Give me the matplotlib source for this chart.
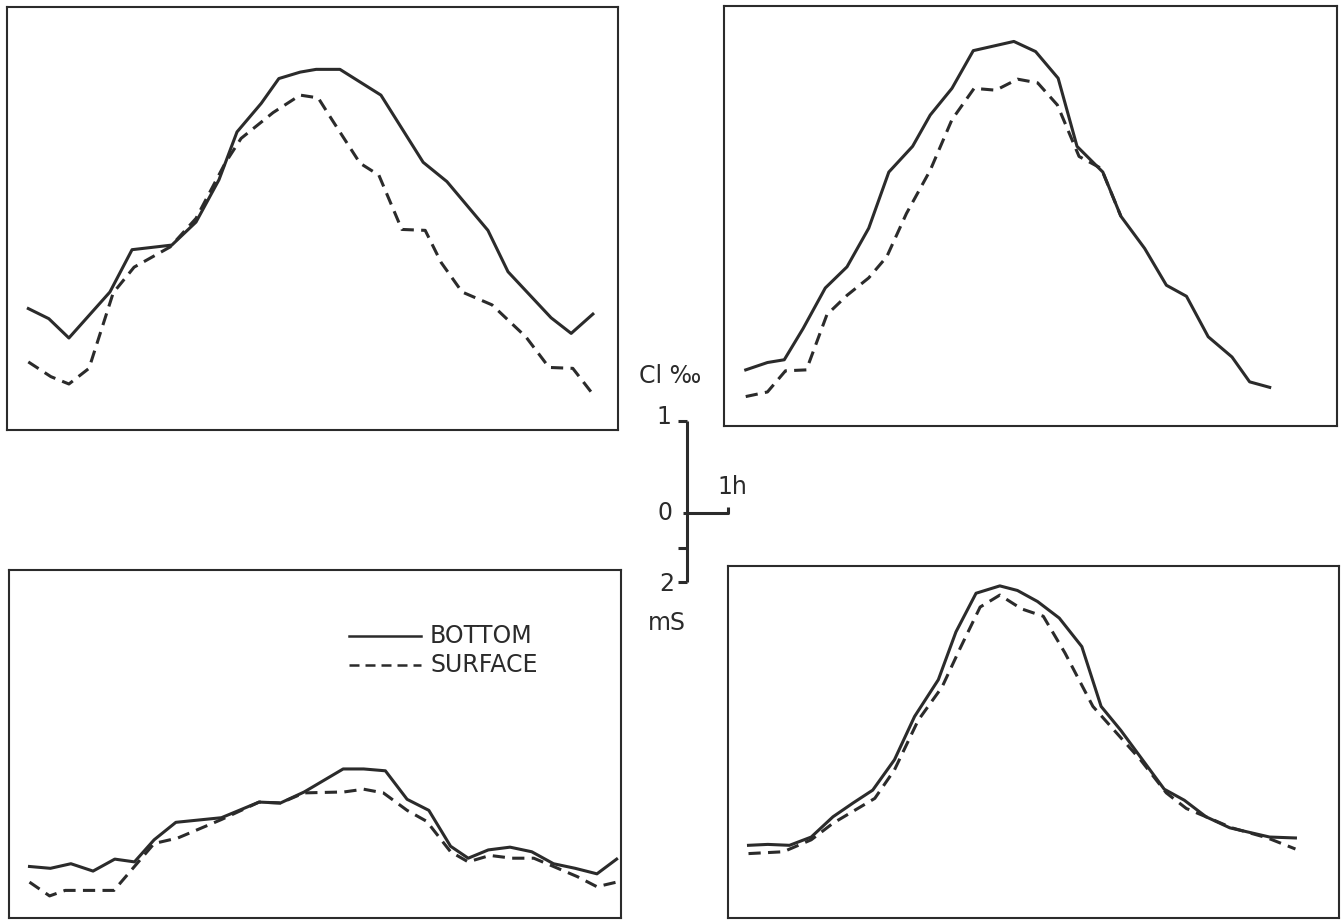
import numpy as np
import matplotlib.pyplot as plt
from matplotlib.lines import Line2D

# time in hours from the left edge of each panel, chlorinity in Cl ‰ above the panel floor
t_tl_bottom = [0.52, 1.02, 1.51, 2.51, 3.05, 4.02, 4.61, 5.17, 5.61, 6.20, 6.63, 7.15,
               7.54, 8.12, 9.12, 10.15, 10.73, 11.73, 12.22, 13.27, 13.76, 14.29]
cl_tl_bottom = [1.32, 1.21, 1.00, 1.50, 1.96, 2.01, 2.26, 2.72, 3.24, 3.55, 3.82, 3.89,
                3.92, 3.92, 3.64, 2.91, 2.70, 2.17, 1.72, 1.22, 1.05, 1.26]
t_tl_surface = [0.52, 1.07, 1.51, 2.00, 2.59, 3.10, 3.98, 4.61, 5.32, 5.71, 6.49, 7.15,
                7.59, 7.93, 8.61, 9.07, 9.63, 10.20, 10.59, 11.10, 11.83, 12.66, 13.22,
                13.80, 14.34]
cl_tl_surface = [0.74, 0.58, 0.50, 0.67, 1.49, 1.77, 1.99, 2.30, 2.90, 3.17, 3.45, 3.64,
                 3.61, 3.37, 2.90, 2.77, 2.18, 2.17, 1.82, 1.50, 1.36, 1.01, 0.68,
                 0.67, 0.36]

t_tr_bottom = [0.53, 1.06, 1.47, 1.93, 2.47, 3.00, 3.53, 4.02, 4.60, 5.03, 5.56, 6.08,
               7.07, 7.60, 8.15, 8.61, 9.24, 9.68, 10.26, 10.79, 11.28, 11.81, 12.39,
               12.82, 13.31]
cl_tr_bottom = [0.61, 0.69, 0.72, 1.06, 1.50, 1.73, 2.15, 2.76, 3.04, 3.38, 3.67, 4.08,
                4.18, 4.07, 3.78, 3.04, 2.76, 2.28, 1.93, 1.53, 1.41, 0.97, 0.75,
                0.48, 0.42]
t_tr_surface = [0.53, 1.06, 1.50, 2.01, 2.51, 3.00, 3.53, 3.97, 4.45, 5.03, 5.56, 6.10,
                6.63, 7.16, 7.65, 8.13, 8.66, 9.20, 9.68]
cl_tr_surface = [0.32, 0.37, 0.60, 0.61, 1.21, 1.42, 1.61, 1.84, 2.31, 2.78, 3.33, 3.67,
                 3.65, 3.77, 3.73, 3.49, 2.93, 2.80, 2.28]

t_bl_bottom = [0.50, 1.01, 1.51, 2.05, 2.58, 3.06, 3.54, 4.07, 5.18, 6.10, 6.62, 7.20,
               8.15, 8.65, 9.18, 9.71, 10.24, 10.77, 11.20, 11.69, 12.22, 12.75, 13.28,
               13.81, 14.34, 14.82]
cl_bl_bottom = [0.56, 0.54, 0.59, 0.51, 0.64, 0.61, 0.85, 1.04, 1.09, 1.26, 1.25, 1.37,
                1.62, 1.62, 1.60, 1.29, 1.17, 0.78, 0.65, 0.74, 0.77, 0.72, 0.59,
                0.54, 0.48, 0.64]
t_bl_surface = [0.50, 0.99, 1.37, 2.05, 2.56, 3.06, 3.54, 4.12, 5.18, 6.10, 6.62, 7.20,
                8.17, 8.65, 9.13, 9.71, 10.19, 10.77, 11.20, 11.73, 12.27, 12.80, 13.28,
                13.86, 14.34, 14.82]
cl_bl_surface = [0.39, 0.24, 0.30, 0.30, 0.30, 0.56, 0.81, 0.87, 1.07, 1.26, 1.25, 1.36,
                 1.37, 1.40, 1.36, 1.17, 1.05, 0.72, 0.61, 0.68, 0.65, 0.65, 0.56,
                 0.45, 0.34, 0.39]

t_br_bottom = [0.50, 0.97, 1.50, 2.03, 2.56, 3.05, 3.53, 4.06, 4.55, 5.13, 5.56, 6.05,
               6.63, 7.06, 7.55, 8.08, 8.63, 9.10, 9.58, 10.06, 10.64, 11.13, 11.66,
               12.24, 13.21, 13.84]
cl_br_bottom = [0.79, 0.80, 0.79, 0.88, 1.10, 1.25, 1.39, 1.72, 2.19, 2.59, 3.11, 3.53,
                3.61, 3.56, 3.44, 3.26, 2.95, 2.30, 2.04, 1.75, 1.40, 1.28, 1.10,
                0.98, 0.88, 0.87]
t_br_surface = [0.50, 1.35, 2.03, 2.56, 3.58, 4.06, 4.64, 5.22, 5.66, 6.15, 6.63, 7.16,
                7.69, 8.22, 8.90, 9.48, 10.06, 10.69, 11.18, 11.66, 12.29, 13.16, 13.84]
cl_br_surface = [0.70, 0.72, 0.85, 1.03, 1.30, 1.61, 2.15, 2.51, 2.93, 3.38, 3.51, 3.36,
                 3.28, 2.88, 2.30, 2.01, 1.72, 1.36, 1.19, 1.10, 0.98, 0.87, 0.75]

# scale of the drawing: pixels per hour and per Cl ‰ / mS
HOUR_PX = 41
CL_PX = 92
MS_PX = 34.5

W, H = 1342, 921
INK = '#2b2b2b'
DASH = (4.0, 2.4)

fig = plt.figure(figsize=(W / 100, H / 100), dpi=100)

# panel frames in pixels: x0, x1, y0 (top), y1 (bottom)
frames = {
    'tl': (7, 618, 7, 430),
    'tr': (724, 1337, 6, 426),
    'bl': (9, 621, 570, 918),
    'br': (728, 1339, 566, 918),
}
series = {
    'tl': (t_tl_bottom, cl_tl_bottom, t_tl_surface, cl_tl_surface),
    'tr': (t_tr_bottom, cl_tr_bottom, t_tr_surface, cl_tr_surface),
    'bl': (t_bl_bottom, cl_bl_bottom, t_bl_surface, cl_bl_surface),
    'br': (t_br_bottom, cl_br_bottom, t_br_surface, cl_br_surface),
}

axes = {}
for key, (x0, x1, y0, y1) in frames.items():
    ax = fig.add_axes([x0 / W, 1 - y1 / H, (x1 - x0) / W, (y1 - y0) / H])
    ax.set_xlim(0, (x1 - x0) / HOUR_PX)
    ax.set_ylim(0, (y1 - y0) / CL_PX)
    ax.set_xticks([])
    ax.set_yticks([])
    for sp in ax.spines.values():
        sp.set_linewidth(1.5)
        sp.set_color(INK)
    tb, cb, ts, cs = series[key]
    ax.plot(tb, cb, color=INK, lw=2.2, label='BOTTOM')
    ax.plot(ts, cs, color=INK, lw=2.2, dashes=DASH, label='SURFACE')
    axes[key] = ax

# legend drawn by hand inside the lower-left panel
lax = axes['bl']
lx0, ly0 = 8.3, 3.07
lx1 = lx0 + 1.75
lax.plot([lx0, lx1], [ly0, ly0], color=INK, lw=1.8)
lax.plot([lx0, lx1], [ly0 - 0.32, ly0 - 0.32], color=INK, lw=1.8, dashes=DASH)
lax.text(lx1 + 0.22, ly0, 'BOTTOM', fontsize=17, color=INK, va='center', ha='left',
         family='DejaVu Sans Condensed')
lax.text(lx1 + 0.22, ly0 - 0.32, 'SURFACE', fontsize=17, color=INK, va='center', ha='left',
         family='DejaVu Sans Condensed')

# scale bar between the panels, in pixel coordinates
sax = fig.add_axes([0, 0, 1, 1], facecolor='none')
sax.set_xlim(0, W)
sax.set_ylim(H, 0)
sax.axis('off')
bx, by0 = 687, 513
kw = dict(color=INK, lw=2.2, solid_capstyle='butt')
sax.plot([bx, bx], [by0 - CL_PX, by0 + 2 * MS_PX], **kw)
sax.plot([bx - 9, bx], [by0 - CL_PX, by0 - CL_PX], **kw)
sax.plot([bx - 9, bx], [by0 + MS_PX, by0 + MS_PX], **kw)
sax.plot([bx - 9, bx], [by0 + 2 * MS_PX, by0 + 2 * MS_PX], **kw)
sax.plot([bx - 4, bx + HOUR_PX, bx + HOUR_PX], [by0, by0, by0 - 6], **kw)

tkw = dict(color=INK, fontsize=17, family='DejaVu Sans Condensed')
sax.text(670, 376, 'Cl ‰', ha='center', va='center', **tkw)
sax.text(664, by0 - CL_PX - 4, '1', ha='center', va='center', **tkw)
sax.text(665, by0, '0', ha='center', va='center', **tkw)
sax.text(667, by0 + 2 * MS_PX + 2, '2', ha='center', va='center', **tkw)
sax.text(732, 487, '1h', ha='center', va='center', **tkw)
sax.text(667, 623, 'mS', ha='center', va='center', **tkw)

fig.savefig('out.png', dpi=100)
